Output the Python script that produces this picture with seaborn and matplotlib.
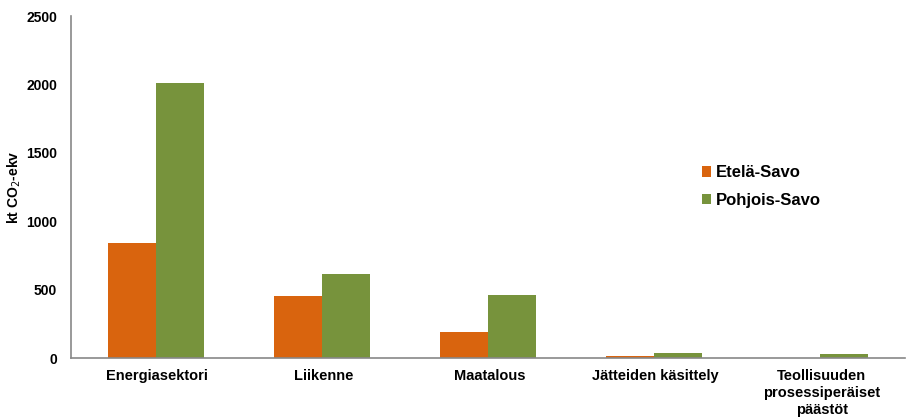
import matplotlib
matplotlib.use("Agg")
import matplotlib.pyplot as plt
import seaborn as sns
import pandas as pd
from matplotlib.ticker import FixedLocator

categories = ["Energiasektori", "Liikenne", "Maatalous", "Jätteiden käsittely",
              "Teollisuuden\nprosessiperäiset\npäästöt"]
etela_savo = [840, 453, 190, 18, 0]
pohjois_savo = [2012, 612, 462, 35, 30]
series_names = ["Etelä-Savo", "Pohjois-Savo"]
colors = ["#D9640E", "#77933C"]
y_ticks = [0, 500, 1000, 1500, 2000, 2500]

df = pd.DataFrame({
    "category": categories * 2,
    "value": etela_savo + pohjois_savo,
    "region": [series_names[0]] * len(categories) + [series_names[1]] * len(categories),
})

sns.set_style("white")
plt.rcParams["font.family"] = ["Liberation Sans", "DejaVu Sans"]
plt.rcParams["text.color"] = "black"
plt.rcParams["axes.labelcolor"] = "black"
plt.rcParams["xtick.labelcolor"] = "black"
plt.rcParams["ytick.labelcolor"] = "black"

fig = plt.figure(figsize=(9.10, 4.19), dpi=100)
ax = fig.add_axes([71 / 910, 1 - 358 / 419, (905 - 71) / 910, (358 - 16) / 419])

sns.barplot(data=df, x="category", y="value", hue="region", order=categories,
            hue_order=series_names, palette=colors, width=0.58, gap=0,
            saturation=1, edgecolor="none", linewidth=0, ax=ax)

ax.set_xlim(-0.51, len(categories) - 0.49)
ax.set_ylim(0, 2500)
ax.set_yticks(y_ticks)
ax.set_yticklabels([str(t) for t in y_ticks], fontsize=10, fontweight="bold")
ax.set_xticks([i + 0.01 for i in range(len(categories))])
ax.set_xticklabels(categories, fontsize=10.5, fontweight="bold", linespacing=1.25)
ax.xaxis.set_minor_locator(FixedLocator([i - 0.5 for i in range(len(categories) + 1)]))
ax.tick_params(axis="x", which="major", length=0, pad=8)
ax.tick_params(axis="x", which="minor", length=4, color="#888888", width=1, direction="out")
ax.tick_params(axis="y", length=4, color="#888888", width=1, direction="out", pad=6)
ax.set_xlabel("")
ax.set_ylabel("kt CO$_2$-ekv", fontsize=10, fontweight="bold", labelpad=2)

for side in ["top", "right"]:
    ax.spines[side].set_visible(False)
for side in ["left", "bottom"]:
    ax.spines[side].set_color("#888888")
    ax.spines[side].set_linewidth(1.2)

ax.legend(loc="upper left", bbox_to_anchor=(0.739, 0.607), frameon=False,
          prop={"weight": "bold", "size": 12}, handlelength=0.55, handleheight=0.55,
          handletextpad=0.25, labelspacing=0.75)

fig.savefig("out.png", dpi=100)
